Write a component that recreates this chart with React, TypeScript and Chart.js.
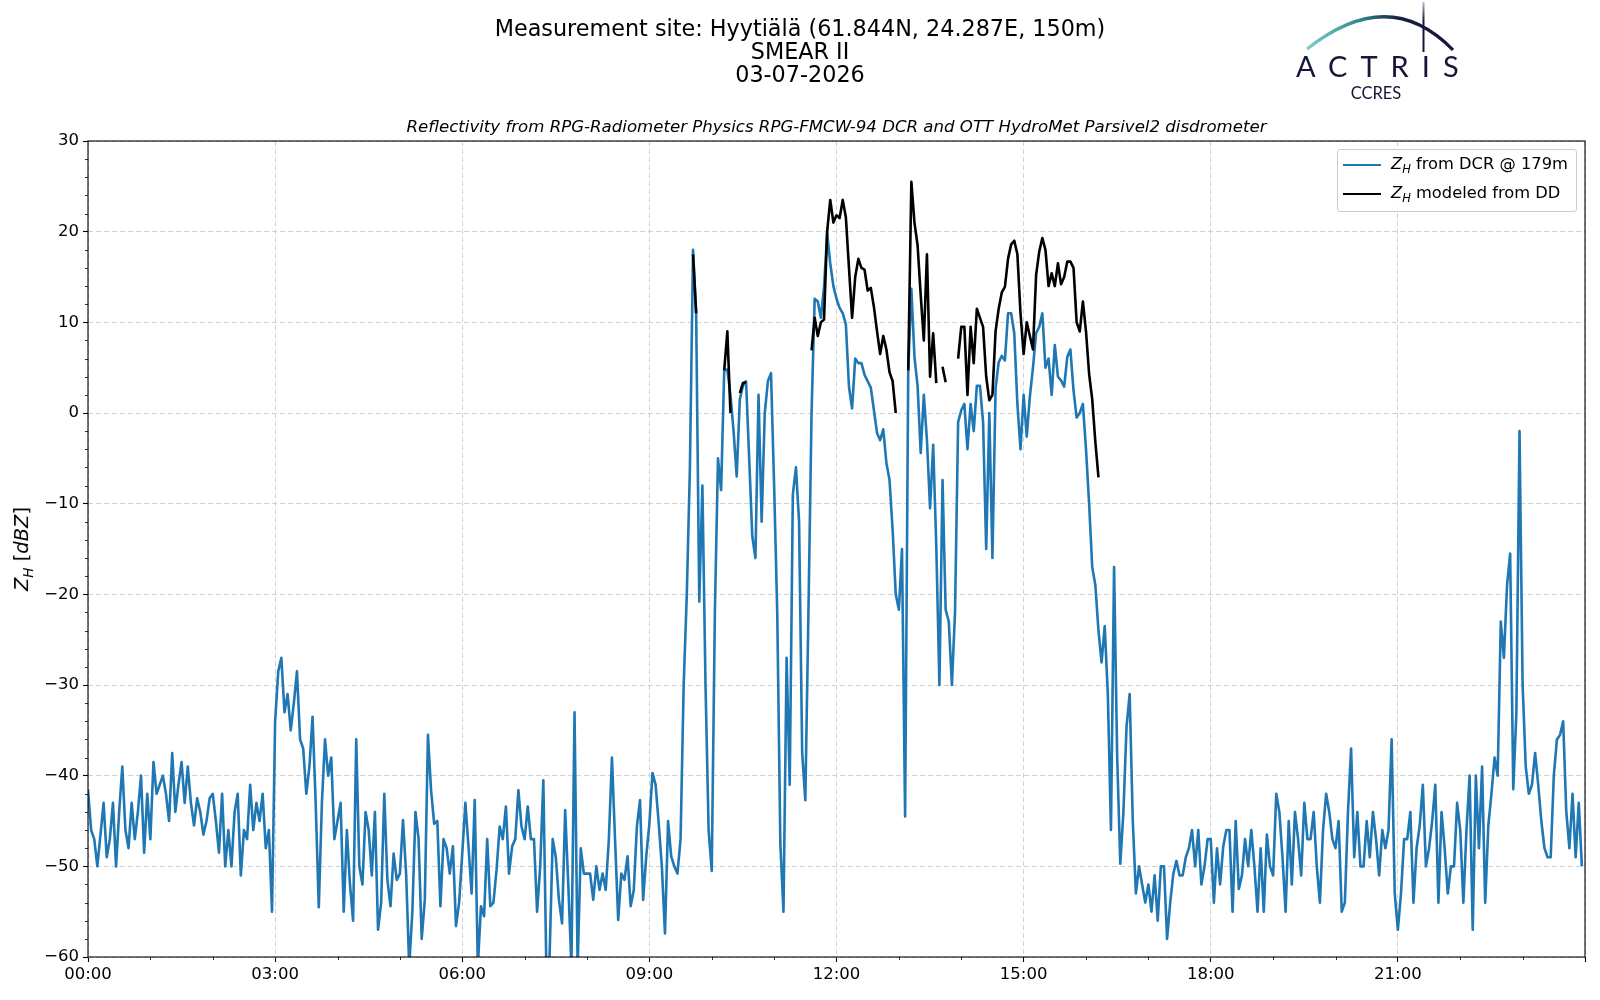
import { useEffect, useRef } from 'react';
import { Chart, registerables } from 'chart.js';

Chart.register(...registerables);
Chart.defaults.font.family = "'DejaVu Sans', sans-serif";

// DCR reflectivity at 179 m, one value every 3 minutes from 00:00 (one row per hour)
const SAMPLE_STEP_MIN = 3;
const dcrZh = [
  -41.5, -46, -47, -50, -46.5, -43, -49, -47, -43, -50, -44, -39, -46, -48, -43, -47, -44, -40, -48.5, -42,
  -47, -38.5, -42, -41, -40, -42, -45, -37.5, -44, -41, -38.5, -43, -39, -43, -45.5, -42.5, -44, -46.5, -45, -42.5,
  -42, -45, -48.5, -42, -50, -46, -50, -44, -42, -51, -46, -47, -41, -46, -43, -45, -42, -48, -46, -55,
  -34, -28.5, -27, -33, -31, -35, -32, -28.5, -36, -37, -42, -39, -33.5, -43, -54.5, -43, -36, -40, -38, -47,
  -45, -43, -55, -46, -52, -56, -36, -50, -52, -44, -46, -51, -44, -57, -54, -42, -51.5, -54.4, -48.6, -51.5,
  -50.8, -44.9, -50.8, -61, -55, -44, -47, -58, -53.7, -35.5, -41.6, -45.3, -45, -54.4, -47, -48, -50.8, -47.8, -56.6, -54,
  -48.6, -43, -47.8, -53, -42.7, -61, -54.4, -55.5, -47, -54.4, -54, -50.4, -45.6, -47, -43.4, -50.8, -47.8, -47, -41.6, -45.6,
  -47, -43.4, -47, -47, -55, -50, -40.5, -62, -60, -47, -49, -53.7, -56.3, -43.8, -52, -61, -33, -61, -48, -50.8,
  -50.8, -50.8, -53.7, -50, -52.6, -50.8, -52.6, -47.1, -38, -47.1, -55.9, -50.8, -51.5, -48.9, -54.4, -52.6, -45.6, -42.7, -53.7, -48.9,
  -45.3, -39.7, -41, -45.3, -50, -57.4, -45, -48.9, -50, -50.8, -47, -30, -20, -6, 18, 11, -20.8, -8, -30, -46,
  -50.5, -22, -5, -8.5, 4.7, 4.8, 2, -2, -7, 1.5, 3, 3.5, -5, -13.6, -16, 2, -12, 0, 3.5, 4.4,
  -8, -22, -47.5, -55, -27, -41, -9, -6, -12, -37.5, -42.7, -22, 0, 12.6, 12.3, 10.5, 13.9, 19.8, 16.5, 14,
  12.6, 11.6, 11, 9.8, 2.9, 0.5, 6, 5.5, 5.5, 4.2, 3.5, 2.8, 0.3, -2.2, -3, -1.8, -5.5, -7.4, -12.9, -20,
  -21.7, -15, -44.5, 4.7, 13.7, 6.2, 3, -4.4, 2, -3, -10.5, -3.5, -14.7, -30, -7.4, -21.7, -23, -30, -22, -1,
  0.3, 1, -4, 1, -2, 3, 3, -1, -15, 0, -16, 2.7, 5.6, 6.3, 5.8, 11, 11, 8.8, 1, -4,
  2, -2.6, 1.8, 5, 8.8, 9.5, 11, 5, 6, 2, 7.5, 4, 3.6, 2.9, 6.2, 7, 2.5, -0.5, 0, 1,
  -4, -10, -17, -19, -24, -27.5, -23.5, -31, -46, -17, -38, -49.7, -44, -34.6, -31, -45, -53, -50, -52, -54,
  -52, -55, -51, -56, -50, -50, -58, -54, -50.8, -49.4, -51, -51, -49, -48, -46, -50, -46, -52, -50, -47,
  -47, -54, -48, -52, -47.8, -46, -46, -55, -45, -52.5, -51, -47, -50, -46, -50, -55, -48, -55, -46.5, -50,
  -51, -42, -44, -49, -55, -45, -52, -44, -47, -51, -43, -47, -47, -44, -50, -54, -46, -42, -44, -47,
  -48, -45, -55, -54, -44, -37, -49, -44, -50, -50, -45, -49, -44, -47, -51, -46, -48, -46, -36, -53,
  -57, -53, -47, -47, -44, -54, -48, -45.5, -41, -50, -48, -45, -41, -54, -44, -48, -53, -50, -50, -43,
  -46, -54, -46, -40, -57, -40, -48, -39, -54, -45.5, -42, -38, -40, -23, -27, -19, -15.5, -41.5, -33, -2,
  -30, -39, -42, -41, -37.5, -41, -45, -48, -49, -49, -40, -36, -35.5, -34, -44, -48, -42, -49, -43, -50,
];

// Reflectivity modeled from the disdrometer: separate rain runs, same 3 minute step
const ddRunStarts = [582, 612, 627, 696, 789, 822, 837];
const ddRun1 = [17.5, 11];
const ddRun2 = [4.7, 9, 0];
const ddRun3 = [2.2, 3.3, 3.4];
const ddRun4 = [
  6.9, 10.5, 8.5, 10, 10.3, 20, 23.5, 21, 21.8, 21.5, 23.5, 21.6, 16, 10.5,
  15, 17, 16, 15.8, 13.5, 13.8, 11.7, 9, 6.5, 8.5, 7, 4.5, 3.5, 0,
];
const ddRun5 = [4.7, 25.5, 21, 18.5, 13, 8, 17.5, 4, 8.8, 3.3];
const ddRun6 = [5.1, 3.4];
const ddRun7 = [
  6, 9.5, 9.5, 2, 9.5, 5.5, 11.5, 10.5, 9.5, 4, 1.4, 2, 9, 11.5, 13.3, 13.9,
  17, 18.6, 19, 17.5, 11, 6.5, 10, 8.5, 7, 15.2, 17.8, 19.3, 18, 14, 15.4,
  14, 16.5, 14.2, 15, 16.7, 16.7, 16, 10, 9, 12.3, 9, 4.3, 1.5, -3.2, -7.1,
];
const ddRuns = [ddRun1, ddRun2, ddRun3, ddRun4, ddRun5, ddRun6, ddRun7];

const timeTickLabels = ['00:00', '03:00', '06:00', '09:00', '12:00', '15:00', '18:00', '21:00'];
const TICK_STEP_MIN = 180;

const W = 1600;
const H = 1000;

const frameAndMinorTicks = {
  id: 'frameAndMinorTicks',
  afterDraw(chart: Chart) {
    const { ctx, chartArea: a, scales } = chart;
    ctx.save();
    ctx.strokeStyle = '#000';
    ctx.lineWidth = 0.8;
    ctx.beginPath();
    for (let v = -60; v <= 30; v += 2) {
      if (v % 10 === 0) continue;
      const y = Math.round(scales.y.getPixelForValue(v)) + 0.5;
      ctx.moveTo(a.left - 3, y);
      ctx.lineTo(a.left, y);
    }
    for (let m = 0; m < 1440; m += 60) {
      if (m % TICK_STEP_MIN === 0) continue;
      const x = Math.round(scales.x.getPixelForValue(m)) + 0.5;
      ctx.moveTo(x, a.bottom);
      ctx.lineTo(x, a.bottom + 3);
    }
    ctx.stroke();
    ctx.lineWidth = 1.1;
    ctx.strokeRect(a.left, a.top, a.right - a.left, a.bottom - a.top);
    ctx.restore();
  },
};

function ZhChart() {
  const canvasRef = useRef<HTMLCanvasElement>(null);

  useEffect(() => {
    if (!canvasRef.current) return;

    const dcrPoints = dcrZh.map((v, i) => ({ x: i * SAMPLE_STEP_MIN, y: v }));
    const ddPoints: { x: number; y: number | null }[] = [];
    ddRuns.forEach((run, r) => {
      const start = ddRunStarts[r];
      if (r > 0) ddPoints.push({ x: start - 1.5, y: null });
      run.forEach((v, i) => ddPoints.push({ x: start + i * SAMPLE_STEP_MIN, y: v }));
    });

    const tickFont = { size: 16.5 };
    const chart = new Chart(canvasRef.current, {
      type: 'line',
      data: {
        datasets: [
          {
            label: 'ZH modeled from DD',
            data: ddPoints,
            borderColor: '#000000',
            borderWidth: 2.6,
            pointRadius: 0,
            tension: 0,
            spanGaps: false,
            borderJoinStyle: 'round',
            order: 0,
          },
          {
            label: 'ZH from DCR @ 179m',
            data: dcrPoints,
            borderColor: '#1f77b4',
            borderWidth: 2.6,
            pointRadius: 0,
            tension: 0,
            borderJoinStyle: 'round',
            order: 1,
          },
        ],
      },
      options: {
        animation: false,
        responsive: false,
        maintainAspectRatio: false,
        parsing: false,
        layout: { padding: { top: 141, right: 15, left: 0, bottom: 0 } },
        plugins: {
          legend: { display: false },
          tooltip: { enabled: false },
        },
        scales: {
          x: {
            type: 'linear',
            min: 0,
            max: 1440,
            afterFit: (s) => { s.height = 43; },
            border: { display: false, dash: [5, 3] },
            grid: { color: '#d2d2d2', lineWidth: 1, tickColor: '#000', tickLength: 5, tickWidth: 1.1 },
            ticks: {
              stepSize: TICK_STEP_MIN,
              autoSkip: false,
              maxRotation: 0,
              includeBounds: false,
              padding: 3,
              color: '#000',
              font: tickFont,
              callback: (value) => timeTickLabels[Math.round(Number(value) / TICK_STEP_MIN)] ?? '',
            },
          },
          y: {
            min: -60,
            max: 30,
            afterFit: (s) => { s.width = 88; },
            border: { display: false, dash: [5, 3] },
            grid: { color: '#d2d2d2', lineWidth: 1, tickColor: '#000', tickLength: 5, tickWidth: 1.1 },
            ticks: {
              stepSize: 10,
              padding: 4,
              color: '#000',
              font: tickFont,
              callback: (value) => {
                const n = Number(value);
                return n < 0 ? '\u2212' + Math.abs(n) : String(n);
              },
            },
          },
        },
      },
      plugins: [frameAndMinorTicks],
    });

    return () => chart.destroy();
  }, []);

  return <canvas ref={canvasRef} width={W} height={H} style={{ width: W, height: H, display: 'block' }} />;
}

const abs = (s: React.CSSProperties): React.CSSProperties => ({ position: 'absolute', ...s });

export default function App() {
  useEffect(() => {
    document.body.style.margin = '0';
  }, []);

  const font = "'DejaVu Sans', sans-serif";
  return (
    <div style={{ position: 'relative', width: W, height: H, background: '#fff', fontFamily: font, color: '#000' }}>
      <ZhChart />

      <div style={abs({ left: 0, top: 17, width: W, textAlign: 'center', fontSize: 22.3, lineHeight: '23px' })}>
        <div>Measurement site: Hyytiälä (61.844N, 24.287E, 150m)</div>
        <div>SMEAR II</div>
        <div>03-07-2026</div>
      </div>

      <div style={abs({ left: 88, top: 116, width: 1497, textAlign: 'center', fontSize: 16.6, lineHeight: '21px', fontStyle: 'italic' })}>
        Reflectivity from RPG-Radiometer Physics RPG-FMCW-94 DCR and OTT HydroMet Parsivel2 disdrometer
      </div>

      <div style={abs({ left: 23, top: 549, transform: 'translate(-50%, -50%) rotate(-90deg)', fontSize: 19.5, whiteSpace: 'nowrap' })}>
        <i>Z</i><sub style={{ fontSize: 13.5, fontStyle: 'italic' }}>H</sub> [<i>dBZ</i>]
      </div>

      <div style={abs({ left: 1337, top: 149, width: 240, height: 63, boxSizing: 'border-box', border: '1px solid #cccccc', borderRadius: 3, background: 'rgba(255,255,255,0.85)', fontSize: 16.3 })}>
        {[
          { color: '#1f77b4', text: 'from DCR @ 179m', top: 4 },
          { color: '#000000', text: 'modeled from DD', top: 33 },
        ].map((e) => (
          <div key={e.text} style={abs({ left: 5, top: e.top, height: 22, display: 'flex', alignItems: 'center', whiteSpace: 'nowrap' })}>
            <span style={{ display: 'inline-block', width: 38, height: 2.6, background: e.color, marginRight: 10 }} />
            <span><i>Z</i><sub style={{ fontSize: 11.5, fontStyle: 'italic' }}>H</sub> {e.text}</span>
          </div>
        ))}
      </div>

      <svg style={abs({ left: 1250, top: 0 })} width={220} height={110} viewBox="0 0 220 110">
        <defs>
          <linearGradient id="arcGrad" x1="57" y1="0" x2="205" y2="0" gradientUnits="userSpaceOnUse">
            <stop offset="0" stopColor="#7fcfc9" />
            <stop offset="0.35" stopColor="#2f8a92" />
            <stop offset="0.62" stopColor="#17203f" />
            <stop offset="1" stopColor="#15153a" />
          </linearGradient>
          <linearGradient id="poleGrad" x1="0" y1="0" x2="0" y2="52" gradientUnits="userSpaceOnUse">
            <stop offset="0" stopColor="#15153a" stopOpacity="0.2" />
            <stop offset="0.4" stopColor="#15153a" stopOpacity="1" />
          </linearGradient>
        </defs>
        <path d="M 57 49 Q 139 -16 203 50" fill="none" stroke="url(#arcGrad)" strokeWidth={3.2} />
        <line x1={173.5} y1={2} x2={173.5} y2={52} stroke="url(#poleGrad)" strokeWidth={2} />
        <text x={46} y={77} fontFamily="Lato, 'Open Sans', sans-serif" fontSize={29} fill="#16163a" style={{ letterSpacing: '13px' }}>ACTRIS</text>
        <text x={126} y={99} textAnchor="middle" fontFamily="Lato, 'Open Sans', sans-serif" fontSize={16.5} fill="#16163a">CCRES</text>
      </svg>
    </div>
  );
}
